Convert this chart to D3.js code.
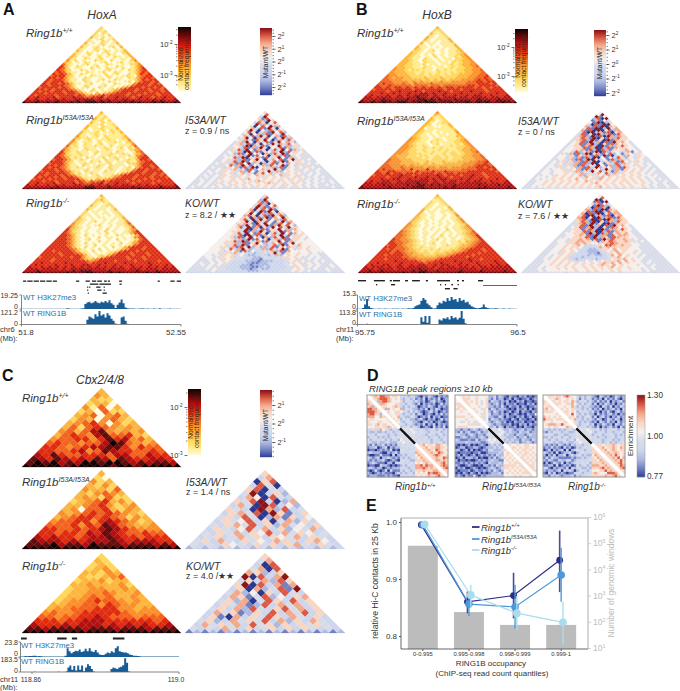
<!DOCTYPE html>
<html><head><meta charset="utf-8">
<style>html,body{margin:0;padding:0;background:#fff}svg{display:block}text{font-family:"Liberation Sans",Arial,sans-serif}</style>
<script src="https://cdnjs.cloudflare.com/ajax/libs/d3/7.8.5/d3.min.js"></script>
</head><body><svg id="c" width="680" height="691"><defs><filter id="soft" x="-2%" y="-2%" width="104%" height="104%"><feGaussianBlur stdDeviation="0.45"/></filter></defs></svg>
<script>
// ---- Hi-C triangles: one string per row, apex first; digit = contact level 0 (pale) to 9 (black)
const hoxA_WT=["2","21","212","2021","21102","310201","2012012","21002102","301021013","2100120102","31012001203","210021100102","3100120210113","21021001201023","310020110210013","3201100201021013","31002101200101103","412010021102001024","3201021001200120113","52100120100210010224","631021001201002100135","6520110020102110201246","65320021010012001021356","565211002101200210012465","6565310210100201200213656","56663201002110210012104566","665642100210010201102135665","6566531102100120021001246566","65666421002101002100120356656","656656531101200100210014666565","6656665420021001201001256665666","56666565310120021010134666566565","665656665421002010123566656656656","6566566566531021011245666566656656","66656666566542103134566656665665666","656666566665653445656666566566665666","6676667566676655667566766656766566766","76766767676677777676767677667676767667","777877778777787888787877787877778787778","9889889898889898999898889889898889898898"];
const hoxA_I53A=["3","21","212","3121","21202","310211","2112012","31102112","301121113","2101120212","31112011213","310121101112","4110120211113","32121101211123","410120111210114","4201110201121023","42102101201101114","512011121102011125","4211021101210120214","53110121101210110234","632121101211102100145","65211211020112112102356","65321121010112101121456","665312102101201211012566","5665311210110211201213665","66653201102120210112114566","566642101211011201102235666","6656531102101210211101246656","65665421210112102110120356656","666565311112011012101214665665","5666565421021110211011256656666","66566665312012101110134666566565","665666565421101201123566656665656","6566656566531111211245666566656665","56665666566642113234566665665656666","666566566665653545656666566566665666","6676667566675655667566766656666566666","76766767676677667676767677667676676667","777777778777777888777877777877777787778","8888888988888888998888888888898888888888"];
const hoxA_KO=["3","12","231","2121","21012","310122","2101102","31011013","201101012","2101011012","21101001012","310101100113","3210100101013","32101201010114","421010010101125","4210101200101124","53210100101010125","632101001020100134","6421010010201001246","65321010010201011356","665310201001002100136","6654210100201100101456","66653101201001020101256","666542101002010010013566","6666531020100101020134666","66665421010201010101256666","666665310201001020135666566","6666665421010201001346665666","66566665311020101125666566666","666656665421010012466656665666","6666656666531012135666656665666","56666666566421023566665666566666","666656666665323466666665666566666","6666566666666545666656666566666566","66766666766666566676666766666766666","676666766676677667666766676666766676","7667676767676767676767676676767676767","77767777676777777777677776777677767777","777877777777878887777877777787777877777","8888988888898888998888989888888988988888"];
const hoxB_WT=["3","22","212","3112","21012","310112","3101113","21010113","301101112","2101001113","31100101113","321010010113","2210120101123","32101100101123","321010201011234","3211010201012134","32110210101102234","332102110101122334","3321102110110212334","33221120110112123344","332211021011012123345","4332211211011121223344","43321221110212112233445","433322112111211212233445","4433322121212121223334455","54433322221222122233344556","543443322232223222333445565","5544433333232323233344456565","55544443434333343344445566566","565544543544454444444455566656","6556555554555455455555566566665","66565665656565656566566665656566","566665666656666666566656666656666","6666566766676566676656666766656666","66676676667667767667666766667666766","676667667676777767676676676776676667","7767777677677877677677767767777677677","77777877777877887878777877777877778777","877878887888788898878887888878888788887","9889889888998889899988898889889898889889"];
const hoxB_I53A=["4","32","212","3112","32012","310122","3201113","31100113","301111112","3211011113","32110101114","321010110113","3211010111133","43211011011123","432110121011234","4321102111112234","43211101201112134","443212101111212234","4432112121211122334","44322121112121123344","443221121211212123345","4433222112112122123344","43332212211212122233445","443322221212212122333445","5443332222122221222333445","54443332223222322233344556","544433333232322333334445565","5544443433333333333344456665","55544544444344344344445566566","565544546444644444444555566656","6556655554655565565555566666665","66575665666566656566566666656666","566666676656666676566656676656666","6666566766676676676656666766656666","66676677667667767677666767667666766","676677667677777767676776676776676667","7767777677777877677677767777777677677","77777877777877887878777877777877778777","877777787777788877777878777777787777787","8888888888898888988888888888889888888888"];
const hoxB_KO=["3","22","112","2112","21012","210112","2101103","31010113","301101112","3101001013","31101001014","321010010113","3211010100124","32101001010124","421010101010123","4321010010101124","43210101001011234","432101010102011234","5432101001011011235","54321011010101012345","554321010102010112346","5543210101011011012346","65443210101201010122346","655443211011010112133456","6655432101120110112234566","56654332110110121123345666","666554321211101111233456666","6565554322112121122345666566","66656543321211212233456666566","666566544322212223345666656666","6656666543332223334566665666666","66666665544333334456666566666666","666566666554444456666666766566666","6666667666665455666667666766666766","66766666766666566676666766676666766","676677667667677667677667676676676767","7677767677677777676767767767677677777","77767777677777877767777777777677777777","778778777777787887787777787777877777877","8888888888898889988888888988888888888888"];
const cbx_WT=["3","43","322","2330","41503","230522","3450453","24304532","345640423","3525654343","45357843434","356547855632","4556646867453","56554557985434","665456778864655","6655674587665565","76865566657755766","876876768758766776","8989787998998787887","99999899999899899999"];
const cbx_I53A=["3","20","423","3242","43325","324543","3432522","23456342","334564234","3405563243","43456565432","345665654243","4556646765423","55564658754334","665565678765444","6656657687655655","76766567787665666","877767677787677766","8889788798887888787","99999999999999999999"];
const cbx_KO=["2","32","232","2342","33243","322345","2334233","33433342","233443343","2334454334","23345453343","234456554343","3344554654433","34455566644344","454456666654444","5545566765554555","66656677766666656","766676777676767667","8878888788878887888","99999999999999999999"];
// ---- ratio triangles: digit = 0 (blue) .. 4-5 (neutral) .. 9 (dark red)
const hoxA_I53AvsWT=["6","58","395","6185","57296","386058","5927364","60585927","573819605","6940528376","58603719582","360572816495","5738296057184","46950738516927","567318695027486","4629507381695742","46738160529473856","456290738165947264","4653817296053817465","44682951760384951746","456370928165739284654","4452816953072869156544","45463729185603728165464","445582906371846951735444","4456372816950475816946454","44546829157630482915665444","454637185926073816475364545","4444582796153728469153646444","45463657182905637281654546544","444546473618257369416546454454","4545465647285166937256564544544","44544656357461685746365654454544","454454656465357646357465464545444","4454546564656556465654656454454544","45445465565647565656565465645454444","445454565465656476565465654654545454","4454546456565465656746565465454544454","44545465454656565656565465654545445444","454454545465456546565654654654545444544","3433434343343434343343433434334343433434"];
const hoxA_KOvsWT=["6","38","295","7185","68206","397158","6928174","70686915","683919605","6950728476","78603819682","460782917596","6839296157285","56960738516927","667319695128586","5729618491796852","56839170629584966","556390738166957275","5663917296163917565","55683951860384951756","556380928175739384665","5562816953072869156654","55563729185603728166565","556682916371846951745555","5566372816952475816956555","55546829157632482915675555","556637186926273816576365655","5554583796243728469153656555","55563657182533637281755556555","555646473533233369416556554544","5545465645322333237256565545544","45544656344332234334665654454544","445454656443322133343465464545444","4445456543332221222333456454454544","45445456433332112233334465645454444","445454544333221222233334565465454454","4444546443332221123233334465454544454","44445454433332212322333344565445445444","444444544443333222333334445654544445444","3333343333333333333433333333433333333333"];
const hoxB_I53AvsWT=["5","59","915","28095","17154","519026","4081905","72819076","681902967","7180906127","48092718067","481609278186","4782918097276","46871906172866","467829160917665","4568192708196754","45681792061875654","456617820917268654","4556681790281766554","45566718208716567554","4553826719082654371546","4637182906713825165465","45536162718291036275465","455362718290516386254654","4456371829063518274656544","45463627182903627185464544","454536371829051638274565454","4546463718263951728365465454","45546456271839265271865564544","454556465718265396271656545454","4554556467263958361746565654544","45545556546736475837465656545444","445546565657264653746565654554544","4554565656564756375656656565455444","45455656565756564756565656565454544","445565656565657656565656656565454454","4455656565656565675656565656565454544","44556565656565656565656565655654544544","445455656565656565675656565655654544544","4444434444444444444444443444444344444444"];
const hoxB_KOvsWT=["5","58","905","18095","67154","519826","6081705","72819076","681902867","7081906177","68092718067","780609278186","6782908097276","46871906172866","447829160917665","4468192708196754","45681792061875654","446617820917268654","4456681790281766544","45566719208716767544","445567681927186776544","4455666819276187665544","45546676718197866764544","455466776661768766764454","4455667676554678766655444","44556567533465887676655444","445565665333476766666554444","4455656543322366575665554444","44554656533222345675655454444","445546564333221346576556544444","4454565643332322347575655454444","44545656333233433346756554544444","445456564323343233456675655444444","4445565656434545456667575654454444","44455656565656565676757565554544444","444556565656565656765756555654454444","4445455656565565656567565655554544444","44454555656565565656565655655454544444","444454555555565565655565655555454444444","4444444444434444344444443444444443444444"];
const cbx_I53AvsWT=["6","37","068","3840","68043","490362","3750843","64893027","374098352","6430972834","36748096136","463840271635","3645836047263","43674836274536","364358473625473","4364736583746534","34634746365473643","463743645376436753","4343654364636743643","23232323232323232323"];
const cbx_KOvsWT=["6","47","308","4708","76236","908379","4637286","69083717","360724819","4725063843","37614825367","462704863836","3647128374736","46372843684736","374612638374836","3610736486374363","46237464837263743","374647384626364643","4343743634636364343","12121212121212121212"];
// ---- aggregate enrichment maps: upper triangle rows (diagonal first), digit on ratio scale
const peak_WT=["55676887756653342432102132102121","5667888765653234231213021213012","562788765556243323212012312102","56776555663324321302121201312","5666556763242332012132102121","562756557243322121302132011","55655665332423210123120121","5655664233231320121021312","565573322432012130212011","56562433221231021201312","5653234322102312012101","564323321213021302121","52334243201210312130","5444543343233423323","544454343324334233","54443433243323423","5444333423342333","543434332433243","54343342334323","5667566577656","566756677665","56676587656","5667668765","566787656","56676687","5677676","566786","56787","5678","566","56","5"];
const peak_I53A=["55565655655552231321021102120101","5566655655562131220120210112012","566565654561322121201021201101","56655654562123120211201102120","5655565562212131021120210112","556554651321222101021120201","55655652132120120120211021","555465312212120121010211","556452211320211021201201","55451322121102102110120","5552123212010211201102","543212211120102120211","52231320211201021102","5444542232122312212","544453232213223122","54542322132212322","5443222312231222","542323221322132","53232231223212","5565565566555","556656566565","56565665655","5656566565","565665656","56656565","5665656","566565","56665","5665","566","55","5"];
const peak_KO=["55665665786553232432103212013212","5656765565653142331212031213102","566565665762334232131213021231","56665564753242331302132120213","5655655762423322120321302132","556565663323241213021231203","55665652334323120213102312","5565853242322031212312021","556652323431302312021312","56573324232132013213202","5564232321203213120312","563233423021321203213","52334232130212312031","5444543342323343233","544453233423323342","54442334233432323","5443423323342333","543343233423233","53433234232334","5666566676566","566756676576","56675676566","5667667656","566768656","56676857","5667686","566786","56687","5678","566","56","5"];
const peakCoreBins=[13,19];
// ---- ChIP tracks, 80 bins each
const trackA_H3=[.4,.3,.3,.3,.4,.3,.3,.3,.3,.4,.3,.3,.3,.3,.3,.4,.3,.3,.3,.4,.3,.3,1,.6,.3,.3,.4,.5,.5,.8,1,7,9,10,8,9,11,9,8,10,9,11,9,12,8,6,1.5,6,9,13,8,2,1,.8,.7,.6,.5,.5,.6,.7,.8,.5,.6,.5,.5,.6,.5,.5,.9,.5,.4,.4,.4,.8,.4,.3,.3,.3,.3,.3];
const trackA_R=[0,0,0,0,0,0,0,0,0,0,0,0,0,0,0,0,0,0,0,0,0,0,0,0,0,0,0,0,0,0,0,0,40,70,60,50,90,70,121,80,90,60,100,80,50,30,5,0,0,60,70,30,2,0,0,0,0,0,0,0,0,0,0,0,0,0,0,0,0,0,0,0,0,0,0,0,0,0,0,0];
const trackB_H3=[.4,.4,1,5,11,3,1,.6,.4,.4,.5,.4,.4,.6,.4,.4,.4,.6,.4,.5,.4,.4,.6,.4,.5,.7,.6,1,3,4,5,9,12,10,6,4,2,.6,.8,4,7,6,9,8,12,9,13,10,11,8,12,9,10,7,8,5,3,2,1,.9,1,2,5,2,1,.6,.5,.5,.7,.5,.4,.4,.5,.4,.4,.5,.4,.4,.4,.4];
const trackB_R=[0,0,1,0,3,0,0,0,0,0,0,0,1,0,0,0,0,1,0,0,0,0,0,0,0,0,0,0,0,0,0,60,20,70,10,70,0,0,0,0,40,30,50,45,60,40,70,50,60,40,55,113,45,6,0,0,0,0,0,0,0,0,0,0,0,0,0,0,0,0,0,0,0,0,0,0,0,0,0,0];
const trackC_H3=[.6,.8,1.5,1,1.5,1.5,2,1.8,1.2,1.5,1,.8,.8,.6,.6,.6,.8,.7,.6,.6,.6,.7,2,14,9,6,8,10,9,12,8,9,13,9,14,9,8,11,7,4,3,3,5,7,6,9,7,14,17,9,8,7,7,6,4,3,2,2,1.5,1.2,.9,.8,.8,.7,.8,.7,.9,.7,.8,.7,.7,.8,.7,.7,.8,.7,.7,.7,.7,.7];
const trackC_R=[0,0,0,0,0,0,0,3,0,0,0,0,0,0,0,0,0,0,0,3,0,0,0,5,60,85,30,80,20,85,30,85,10,60,100,80,40,5,0,0,0,0,0,0,0,0,40,60,50,40,60,70,90,180,120,5,0,0,0,0,0,0,0,0,0,0,0,0,0,0,0,0,0,0,0,0,0,0,0,0,0,0];
// ---- gene models in Mb: [start, end, row]
const genesA=[[51.805,51.82,0],[51.825,51.85,0],[51.855,51.88,0],[51.885,51.91,0],[51.915,51.94,0],[51.945,51.965,0],[52.055,52.07,0],[52.10,52.12,0],[52.13,52.15,0],[52.155,52.177,0],[52.187,52.2,0],[52.205,52.215,0],[52.258,52.272,0],[52.44,52.45,0],[52.50,52.52,0],[52.53,52.55,0],[52.12,52.16,1],[52.165,52.22,1],[52.26,52.27,1],[52.107,52.112,2],[52.117,52.122,2],[52.15,52.17,2],[52.185,52.19,2],[52.107,52.112,3],[52.155,52.175,3],[52.185,52.19,3],[52.11,52.115,4],[52.18,52.2,4]];
const genesB=[[95.75,95.788,0],[95.825,95.877,0],[95.90,95.91,0],[95.915,95.948,0],[95.972,95.986,0],[96.005,96.042,0],[96.07,96.08,0],[96.123,96.184,0],[96.217,96.226,0],[96.24,96.25,0],[96.316,96.34,0],[95.835,95.84,1],[95.906,95.925,1],[96.137,96.142,1],[96.16,96.165,1],[96.19,96.198,1],[96.22,96.225,1],[96.16,96.184,2],[96.2,96.22,2]];
const genesC=[[118.8495,118.855,0],[118.884,118.893,0],[118.898,118.903,0],[118.937,118.948,0]];
const thinGeneB=[[96.34,96.5,1]];
// ---- panel E
const quantiles=["0-0.995","0.995-0.998","0.998-0.999","0.999-1"];
const windowCounts=[80000,235,76,76];
const wtMean=[.995,.86,.871,.933], wtLow=[.995,.84,.831,.877], wtHigh=[.995,.878,.911,.985];
const i53Mean=[.995,.856,.851,.907], i53Low=[.995,.835,.813,.86], i53High=[.995,.875,.89,.955];
const koMean=[.996,.872,.84,.824], koLow=[.996,.85,.81,.785], koHigh=[.996,.89,.87,.86];
const hicColors=["#fffbe0","#ffec90","#ffd75c","#fdb63c","#fb9029","#f4621a","#e22a10","#b60f10","#640808","#130404"];
const ratioColors=["#2a3990","#7280c4","#aeb9e0","#cdd6ec","#d8dce8","#f4efec","#f8d6c4","#f2a98c","#dc5a44","#8c1317"];
const svg=d3.select("#c");
const hicColor=d3.scaleLinear().domain(d3.range(10)).range(hicColors);
const ratioColor=d3.scaleLinear().domain(d3.range(10)).range(ratioColors);
const ink="#333";
function txt(x,y,s,size,o={}){
  const t=svg.append("text").attr("x",x).attr("y",y).attr("font-size",size).attr("fill",o.fill||ink).text(s);
  if(o.italic)t.attr("font-style","italic"); if(o.bold)t.attr("font-weight","bold");
  if(o.anchor)t.attr("text-anchor",o.anchor);
  if(o.rot!==undefined)t.attr("transform",`rotate(${o.rot} ${x} ${y})`);
  return t;
}
function geno(x,y,sup,size=11.5,o={}){
  const t=txt(x,y,"Ring1b",size,{italic:true,...o});
  t.append("tspan").attr("dy",-size*.33).attr("font-size",size*.62).text(sup);
}
function triangle(rows,x0,x1,apex,base,color){
  const n=rows.length,sx=d3.scaleLinear().domain([0,n]).range([x0,x1]),sy=d3.scaleLinear().domain([0,n]).range([base,apex]);
  const cells=[];rows.forEach((r,i)=>{const d=n-1-i;for(let a=0;a<=i;a++){const ch=r[a]!==undefined?r[a]:r[r.length-1];cells.push({a,b:a+d,v:+ch});}});
  const pt=(u,v)=>[sx((u+v)/2),sy(Math.max(0,v-u))];
  const g=svg.append("g").attr("filter","url(#soft)");
  g.selectAll("path").data(cells).join("path")
    .attr("d",c=>"M"+[pt(c.a,c.b+1),pt(c.a+1,c.b+1),pt(c.a+1,c.b),pt(c.a,c.b)].join("L")+"Z")
    .attr("fill",c=>color(c.v)).attr("stroke",c=>color(c.v)).attr("stroke-width",.25);
}
function colorbar(x,w,y0,y1,color){
  const n=y1-y0,lev=d3.scaleLinear().domain([y1,y0]).range([0,9]);
  svg.append("g").selectAll("rect").data(d3.range(n)).join("rect")
    .attr("x",x).attr("width",w).attr("y",i=>y0+i).attr("height",1.2).attr("fill",i=>color(lev(y0+i)));
}
function powerAxis(x,orient,scale,majors,minors,base,size=7.5,color=ink){
  const g=svg.append("g").attr("transform",`translate(${x},0)`);
  const ax=orient==="left"?d3.axisLeft(scale):d3.axisRight(scale);
  g.call(ax.tickValues(minors).tickSize(1.5).tickFormat(""));
  g.call(s=>s.select(".domain").remove());
  const g2=svg.append("g").attr("transform",`translate(${x},0)`);
  g2.call((orient==="left"?d3.axisLeft(scale):d3.axisRight(scale)).tickValues(majors).tickSize(3).tickPadding(2).tickFormat(""));
  g2.select(".domain").remove();
  g.selectAll("line").attr("stroke",color).attr("stroke-width",.6);g2.selectAll("line").attr("stroke",color).attr("stroke-width",.7);
  g2.selectAll(".tick text").attr("font-size",size).attr("fill",color).each(function(d){
    const e=Math.round(Math.log(d)/Math.log(base));const t=d3.select(this);
    t.text(base);t.append("tspan").attr("dy",-size*.4).attr("font-size",size*.62).text(e);
  });
}
function hicBar(x,y0,y1,yHi,yLo,textX1,textX2,textCy){
  colorbar(x,13,y0,y1,hicColor);
  const s=d3.scaleLog().domain([1e-3,1e-2]).range([yLo,yHi]);
  const minors=[2,3,4,5,6,7,8,9].map(k=>k*1e-3).concat([2,3].map(k=>k*1e-2),[5,7,9].map(k=>k*1e-4)).filter(v=>s(v)>=y0&&s(v)<=y1);
  powerAxis(x-.5,"left",s,[1e-3,1e-2],minors,10,7.5);
  txt(textX1,textCy,"Normalized",6.6,{anchor:"middle",rot:-90,fill:"#3a2a20"}).attr("dy",2);
  txt(textX2,textCy,"contact frequency",6.6,{anchor:"middle",rot:-90,fill:"#3a2a20"}).attr("dy",2);
}
function ratioBar(x,y0,y1,yMap,majors,textX,textCy){
  colorbar(x,12,y0,y1,ratioColor);
  const s=d3.scaleLog().base(2).domain(yMap[0]).range(yMap[1]);
  const minors=d3.range(-2.75,2.76,.25).map(e=>Math.pow(2,e)).filter(v=>s(v)>=y0&&s(v)<=y1);
  powerAxis(x+12.5,"right",s,majors,minors,2,7.5);
  txt(textX,textCy,"Mutant/WT",6.6,{anchor:"middle",rot:-90,fill:"#2a2a3a"}).attr("dy",2);
}
function track(vals,x0,x1,yBase,yTop,maxV,fill="#185c95"){
  const sx=d3.scaleLinear().domain([0,vals.length-1]).range([x0,x1]),sy=d3.scaleLinear().domain([0,maxV]).range([yBase,yTop]);
  svg.append("path").datum(vals).attr("fill",fill)
   .attr("d",d3.area().x((d,i)=>sx(i)).y0(yBase).y1(d=>sy(d)).curve(d3.curveStepAfter));
}
function genes(list,sx,rowY,h){
  svg.append("g").selectAll("rect").data(list).join("rect").attr("x",d=>sx(d[0])).attr("width",d=>Math.max(1.2,sx(d[1])-sx(d[0])))
    .attr("y",d=>rowY[d[2]]).attr("height",h).attr("fill","#222");
}
function tracksFrame(o){
  const domain=svg.append("g").attr("fill","none").attr("stroke","#666").attr("stroke-width",.8);
  domain.append("path").attr("d",`M${o.ax},${o.top}V${o.base2}H${o.x1}`);
  [o.top,o.base1,o.top2,o.base2].forEach(y=>domain.append("path").attr("d",`M${o.ax-2},${y}H${o.ax}`));
  o.ticks.forEach(xx=>domain.append("path").attr("d",`M${xx},${o.base2}v2`));
}
// ---------- Panel A
const AL=22,AR=181,RL=185,RR=345,BL=358,BR=517,SL=521,SR=680;
const rowsY=[[26,103],[111,189],[194,273]];
txt(3,14.5,"A",16,{bold:true,fill:"#111"});
txt(102,19,"HoxA",12,{italic:true,anchor:"middle"});
triangle(hoxA_WT,AL,AR,...rowsY[0],hicColor);triangle(hoxA_I53A,AL,AR,...rowsY[1],hicColor);triangle(hoxA_KO,AL,AR,...rowsY[2],hicColor);
triangle(hoxA_I53AvsWT,RL,RR,...rowsY[1],ratioColor);triangle(hoxA_KOvsWT,RL,RR,...rowsY[2],ratioColor);
geno(26,37,"+/+");geno(26,124,"I53A/I53A");geno(26,207,"-/-");
txt(185,124,"I53A/WT",10.5,{italic:true});txt(185,134,"z = 0.9 / ns",9);
txt(185,207,"KO/WT",10.5,{italic:true});txt(185,218,"z = 8.2 / ★★",9);
hicBar(178,27,91,44,75,181,187,64);
ratioBar(260,28,95,[[.25,4],[87,36]],[.25,.5,1,2,4],266,62);
genes(genesA,d3.scaleLinear().domain([51.8,52.55]).range([AL,AR]),[280.5,283.5,286.5,289.5,292.5],1.3);
track(trackA_H3,AL,AR,309,295,19.25);track(trackA_R,AL,AR,324,311,121.2);
tracksFrame({ax:21.5,top:295,base1:309,top2:311,base2:324.5,x1:181,ticks:[21.5,181]});
txt(23,300,"WT H3K27me3",7.8,{fill:"#2a70a9"});txt(23,316,"WT RING1B",7.8,{fill:"#2a70a9"});
[["19.25",298],["0",309],["121.2",315],["0",326]].forEach(d=>txt(18,d[1],d[0],7,{anchor:"end"}));
txt(26,335,"51.8",8,{anchor:"middle"});txt(176,335,"52.55",8,{anchor:"middle"});txt(0,332,"chr6",7.5);txt(0,341,"(Mb):",7.5);
// ---------- Panel B
txt(356,14.5,"B",16,{bold:true,fill:"#111"});
txt(437,19,"HoxB",12,{italic:true,anchor:"middle"});
triangle(hoxB_WT,BL,BR,...rowsY[0],hicColor);triangle(hoxB_I53A,BL,BR,...rowsY[1],hicColor);triangle(hoxB_KO,BL,BR,...rowsY[2],hicColor);
triangle(hoxB_I53AvsWT,SL,SR,...rowsY[1],ratioColor);triangle(hoxB_KOvsWT,SL,SR,...rowsY[2],ratioColor);
geno(357,37,"+/+");geno(357,125,"I53A/I53A");geno(357,208,"-/-");
txt(518,125,"I53A/WT",10.5,{italic:true});txt(518,135,"z = 0 / ns",9);
txt(518,208,"KO/WT",10.5,{italic:true});txt(518,219,"z = 7.6 / ★★",9);
hicBar(515,29,92,47,76,518,524,61);
ratioBar(594,30,96,[[.25,4],[93,35]],[.25,.5,1,2,4],600,63);
const sxB=d3.scaleLinear().domain([95.75,96.5]).range([BL,BR]);
genes(genesB,sxB,[280,284,288],1.4);genes(thinGeneB,sxB,[0,285,0],.7);
track(trackB_H3,BL,BR,309,295,15.3);track(trackB_R,BL,BR,324,311,113.8);
tracksFrame({ax:357.5,top:295,base1:309,top2:311,base2:324.5,x1:517,ticks:[357.5,517]});
txt(359,301,"WT H3K27me3",7.8,{fill:"#2a70a9"});txt(359,317,"WT RING1B",7.8,{fill:"#2a70a9"});
[["15.3",296],["0",309],["113.8",315],["0",325]].forEach(d=>txt(356,d[1],d[0],7,{anchor:"end"}));
txt(365,335,"95.75",8,{anchor:"middle"});txt(518,335,"96.5",8,{anchor:"middle"});txt(336,332,"chr11",7.5);txt(336,341,"(Mb):",7.5);
// ---------- Panel C
const rowsC=[[388,467],[470,549],[553,633]];
txt(2,381,"C",16,{bold:true,fill:"#111"});
txt(100,384,"Cbx2/4/8",12,{italic:true,anchor:"middle"});
triangle(cbx_WT,AL,AR,...rowsC[0],hicColor);triangle(cbx_I53A,AL,AR,...rowsC[1],hicColor);triangle(cbx_KO,AL,AR,...rowsC[2],hicColor);
triangle(cbx_I53AvsWT,RL,RR,...rowsC[1],ratioColor);triangle(cbx_KOvsWT,RL,RR,...rowsC[2],ratioColor);
geno(22,402,"+/+");geno(22,486,"I53A/I53A");geno(22,570,"-/-");
txt(186,486,"I53A/WT",10.5,{italic:true});txt(186,495,"z = 1.4 / ns",9);
txt(186,570,"KO/WT",10.5,{italic:true});txt(186,579,"z = 4.0 /★★",9);
hicBar(188,389,455,407,455,191,197,422);
ratioBar(260,390,457,[[.5,2],[442,405]],[.5,1,2],266,425);
const sxC=d3.scaleLinear().domain([118.86,119.0]).range([32,179]);
genes(genesC,sxC,[637.5],2);
track(trackC_H3,sxC(118.849),179,657,642,23.8);track(trackC_R,sxC(118.849),179,672,658,183.5);
tracksFrame({ax:20.5,top:642,base1:657,top2:658,base2:672,x1:179,ticks:[32,179]});
txt(21,648,"WT H3K27me3",7.8,{fill:"#2a70a9"});txt(21,664,"WT RING1B",7.8,{fill:"#2a70a9"});
[["23.8",645],["0",656],["183.5",662],["0",673]].forEach(d=>txt(18,d[1],d[0],7,{anchor:"end"}));
txt(31,682,"118.86",6.8,{anchor:"middle"});txt(176,682,"119.0",6.8,{anchor:"middle"});txt(0,682,"chr11",7.5);txt(0,690,"(Mb):",7.5);
// ---------- Panel D
txt(367,381,"D",16,{bold:true,fill:"#111"});
txt(369,392,"RING1B peak regions ≥10 kb",9.5,{italic:true});
function peakMap(rows,x0,x1,y0,y1){
  const n=rows.length,sx=d3.scaleBand().domain(d3.range(n)).range([x0,x1]),sy=d3.scaleBand().domain(d3.range(n)).range([y0,y1]);
  const cells=[];rows.forEach((r,i)=>{for(let k=0;k<r.length&&i+k<n;k++){const j=i+k;cells.push({i,j,v:+r[k]});if(j!==i)cells.push({i:j,j:i,v:+r[k]});}});
  svg.append("g").attr("filter","url(#soft)").selectAll("rect").data(cells).join("rect").attr("x",c=>sx(c.j)).attr("y",c=>sy(c.i))
    .attr("width",sx.bandwidth()+.3).attr("height",sy.bandwidth()+.3).attr("fill",c=>ratioColor(c.v));
  const fx=d3.scaleLinear().domain([0,n]).range([x0,x1]),fy=d3.scaleLinear().domain([0,n]).range([y0,y1]);
  svg.append("line").attr("x1",fx(0)).attr("y1",fy(0)).attr("x2",fx(n)).attr("y2",fy(n)).attr("stroke","#fff").attr("stroke-width",3.2);
  svg.append("line").attr("x1",fx(peakCoreBins[0])).attr("y1",fy(peakCoreBins[0])).attr("x2",fx(peakCoreBins[1])).attr("y2",fy(peakCoreBins[1])).attr("stroke","#111").attr("stroke-width",2.4);
  svg.append("rect").attr("x",x0).attr("y",y0).attr("width",x1-x0).attr("height",y1-y0).attr("fill","none").attr("stroke","#999").attr("stroke-width",1);
}
peakMap(peak_WT,367,448,395,477);peakMap(peak_I53A,455,537,395,477);peakMap(peak_KO,543,625,395,477);
geno(395,490,"+/+",10);geno(482,490,"I53A/I53A",10);geno(568,490,"-/-",10);
colorbar(637,8,395,477,ratioColor);
svg.append("rect").attr("x",637).attr("y",395).attr("width",8).attr("height",82).attr("fill","none").attr("stroke","#999").attr("stroke-width",.5);
[["1.30",398],["1.00",439],["0.77",479]].forEach(d=>txt(647,d[1],d[0],8.2,{}));
txt(633,436,"Enrichment",8,{anchor:"middle",rot:-90}).attr("dy",0);
// ---------- Panel E
txt(366,511,"E",16,{bold:true,fill:"#111"});
const xE=d3.scaleBand().domain(quantiles).range([400,584]).paddingInner(.35).paddingOuter(.17);
const yE=d3.scaleLinear().domain([.8,1]).range([636,522]);
const yW=d3.scaleLog().domain([10,1e6]).range([648,517]);
svg.append("g").selectAll("rect").data(windowCounts).join("rect").attr("x",(d,i)=>xE(quantiles[i])).attr("width",xE.bandwidth())
  .attr("y",d=>yW(d)).attr("height",d=>649-yW(d)).attr("fill","#bcbcbc");
svg.append("path").attr("d","M401,518V649H588").attr("fill","none").attr("stroke","#555").attr("stroke-width",.9);
svg.append("path").attr("d","M401,518H588V649").attr("fill","none").attr("stroke","#999").attr("stroke-width",.8);
const gL=svg.append("g").attr("transform","translate(401,0)").call(d3.axisLeft(yE).tickValues([.8,.9,1]).tickFormat(d3.format(".1f")).tickSize(2).tickPadding(2));
gL.select(".domain").remove();gL.selectAll("text").attr("font-size",8).attr("fill",ink);gL.selectAll("line").attr("stroke","#555");
const gB=svg.append("g").attr("transform","translate(0,649)").call(d3.axisBottom(xE).tickSize(2).tickPadding(1));
gB.select(".domain").remove();gB.selectAll("text").attr("font-size",5.8).attr("fill",ink);gB.selectAll("line").attr("stroke","#555");
powerAxis(588,"right",yW,[10,100,1e3,1e4,1e5,1e6],[],10,8.5,"#bdbdbd");
const dodge=[[-1.5,wtMean,wtLow,wtHigh,"#2c2c86",3.4],[0,i53Mean,i53Low,i53High,"#4d98d8",3.8],[1.8,koMean,koLow,koHigh,"#a9dcee",3.9]];
dodge.forEach(([dx,m,lo,hi,col,r])=>{
  const X=i=>xE(quantiles[i])+xE.bandwidth()/2+dx;
  const g=svg.append("g");
  g.selectAll("line").data(m).join("line").attr("x1",(d,i)=>X(i)).attr("x2",(d,i)=>X(i)).attr("y1",(d,i)=>yE(lo[i])).attr("y2",(d,i)=>yE(hi[i])).attr("stroke",col).attr("stroke-width",1.6).attr("opacity",.85);
  g.append("path").datum(m).attr("fill","none").attr("stroke",col).attr("stroke-width",1.2).attr("d",d3.line().x((d,i)=>X(i)).y(d=>yE(d)));
  g.selectAll("circle").data(m).join("circle").attr("cx",(d,i)=>X(i)).attr("cy",d=>yE(d)).attr("r",r).attr("fill",col);
});
[["+/+",527,"#2c2c86"],["I53A/I53A",539,"#4d98d8"],["-/-",550,"#a9dcee"]].forEach(d=>{
  svg.append("line").attr("x1",472).attr("x2",479.5).attr("y1",d[1]).attr("y2",d[1]).attr("stroke",d[2]).attr("stroke-width",1.8);
  geno(481,d[1]+3.5,d[0],9.5);
});
txt(376,581,"relative Hi-C contacts in 25 Kb",8.6,{anchor:"middle",rot:-90}).attr("dy",2);
txt(612,583,"Number of genomic windows",8.5,{anchor:"middle",rot:-90,fill:"#bdbdbd"}).attr("dy",2);
txt(491,666,"RING1B occupancy",8,{anchor:"middle"});
txt(492,676,"(ChIP-seq read count quantiles)",8,{anchor:"middle"});
</script></body></html>
